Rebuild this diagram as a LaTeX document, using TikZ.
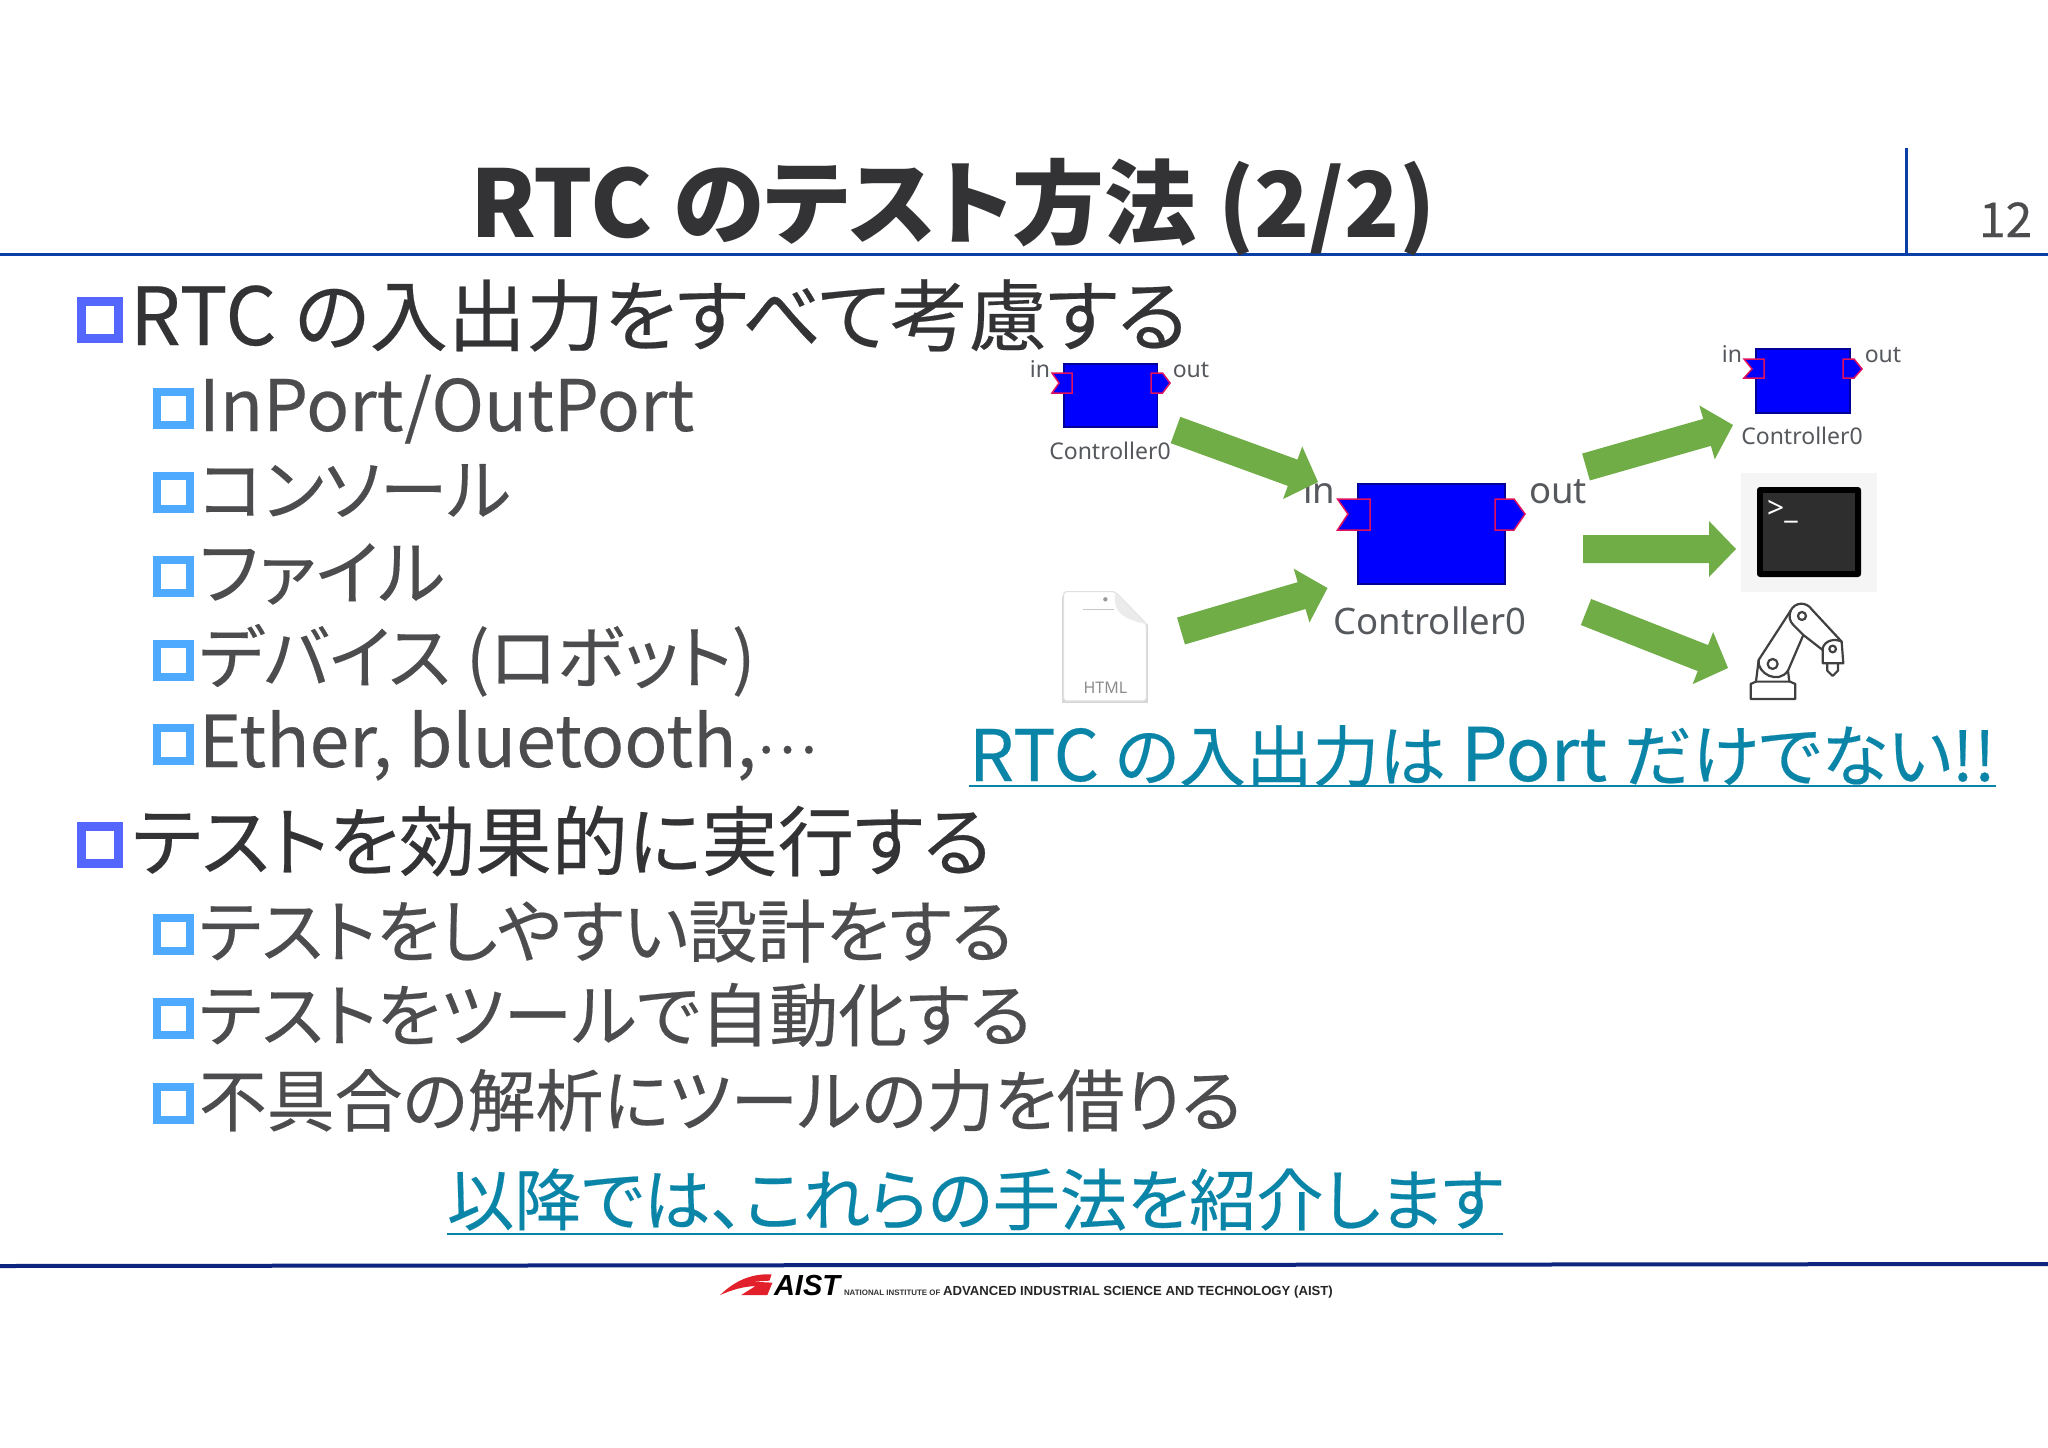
\documentclass[tikz,border=0pt]{standalone}
\usepackage{fontspec}
\usetikzlibrary{calc}
\setmainfont{Noto Sans CJK JP}[RawFeature=+palt]
\newfontfamily\regfont{Noto Sans CJK JP}[RawFeature=+palt,FakeBold=0.3]
\newfontfamily\labelfont{Noto Sans}
\newfontfamily\logofont{Liberation Sans}
\definecolor{maintext}{HTML}{333335}
\definecolor{subtext}{HTML}{4C4C4E}
\definecolor{linkblue}{HTML}{0A85A8}
\definecolor{headerblue}{HTML}{0B3FA8}
\definecolor{footernavy}{HTML}{0E2580}
\definecolor{bulletmain}{HTML}{5566FF}
\definecolor{bulletsub}{HTML}{4DAAFF}
\definecolor{arrowgreen}{HTML}{70AD47}
\definecolor{portred}{HTML}{E0105F}
\definecolor{labelgray}{HTML}{55585C}
\definecolor{aistred}{HTML}{E2202C}
\newcommand{\fs}[1]{\fontsize{#1}{#1}\selectfont}
\newcommand{\blockarrow}[2]{%
  \coordinate (hb) at ($(#2)!27pt!(#1)$);
  \fill[arrowgreen] ($(#1)!14pt!90:(#2)$) -- ($(hb)!14pt!90:(#2)$) -- ($(hb)!28pt!90:(#2)$) -- (#2)
    -- ($(hb)!28pt!-90:(#2)$) -- ($(hb)!14pt!-90:(#2)$) -- ($(#1)!14pt!-90:(#2)$) -- cycle;}
\tikzset{
  txt/.style={inner sep=0pt,outer sep=0pt,anchor=base west},
  title/.style={txt,font=\fs{92}\bfseries,text=maintext},
  mainitem/.style={txt,font=\regfont\fs{#1},text=maintext},
  subitem/.style={txt,font=\regfont\fs{#1},text=subtext},
  linktext/.style={txt,font=\regfont\fs{#1},text=linkblue},
  mainbullet/.style={draw=bulletmain,line width=9pt,fill=white},
  subbullet/.style={draw=bulletsub,line width=8pt,fill=white},
  blockbox/.style={fill=blue,draw=black!40!blue,line width=1.2pt},
  portshape/.style={fill=blue,draw=portred,line width=1.5pt,line join=miter},
  smalllabel/.style={inner sep=0pt,anchor=base,font=\labelfont\fs{23},text=labelgray},
  biglabel/.style={inner sep=0pt,anchor=base,font=\labelfont\fs{36.5},text=labelgray},
  robot/.style={draw=black!75,line width=2.2pt,line join=round,line cap=round},
}
\begin{document}
\begin{tikzpicture}[x=1pt,y=-1pt]
\useasboundingbox[fill=white] (0,0) rectangle (2048,1448);

% header and footer rules
\coordinate (hl) at (0,254); \coordinate (hr) at (2048,254);
\coordinate (vt) at (1906,148); \coordinate (vb) at (1906,254);
\draw[headerblue,line width=3pt] (hl) -- (hr);
\draw[headerblue,line width=3pt] (vt) -- (vb);
\coordinate (fl) at (0,1266); \coordinate (fr) at (2048,1264);
\draw[footernavy,line width=4pt] (fl) -- (fr);

% title and number
\node[title] (ttl) at (470,237) {{\fs{93}RTC }のテスト方法 {\fs{90.7}(2/2)}};
\node[txt,font=\regfont\fs{48},text=subtext] (pg) at (1979,237) {12};

% bullets
\foreach \y/\n in {343/m1,868/m2}
  \draw[mainbullet] (81.5,\y-4.5) rectangle (118.5,\y-41.5);
\foreach \y in {429,513,597,681,765,955,1039,1124}
  \draw[subbullet] (157,\y-4) rectangle (190,\y-37);

% list text
\node[mainitem=78.2] (m1) at (130,345) {{\fs{80}RTC }の入出力をすべて考慮する};
\node[subitem=71] (s1) at (199,431) {InPort/OutPort};
\node[subitem=68] (s2) at (199,515) {コンソール};
\node[subitem=71] (s3) at (199,599) {ファイル};
\node[subitem=69.3] (s4) at (199,683) {デバイス (ロボット)};
\node[subitem=71.5] (s5) at (199,767) {Ether, bluetooth,{\fs{57}\raisebox{14pt}{⋯}}};
\node[mainitem=76.3] (m2) at (132,870) {テストを効果的に実行する};
\node[subitem=68.7] (s6) at (199,957) {テストをしやすい設計をする};
\node[subitem=69] (s7) at (199,1041) {テストをツールで自動化する};
\node[subitem=67.8] (s8) at (199,1126) {不具合の解析にツールの力を借りる};

% links
\node[linktext=67.8] (lk1) at (969,781) {{\fs{71}RTC }{\fs{66.7}の入出力は }{\fs{74}Port }だけでない!!};
\draw[linkblue,line width=2.5pt] ([yshift=-5pt]lk1.base west) -- ([yshift=-5pt]lk1.base east);
\node[linktext=67.2] (lk2) at (447,1225) {以降では、これらの手法を紹介します};
\draw[linkblue,line width=2.5pt] ([yshift=-9pt]lk2.base west) -- ([yshift=-9pt]lk2.base east);

% left small controller
\draw[blockbox] (1064,364) rectangle (1157.5,427);
\draw[portshape] (1052,373) -- (1072,373) -- (1072,393) -- (1052,393) -- (1059,383) -- cycle;
\draw[portshape] (1151,373) -- (1162.5,373) -- (1170,383) -- (1162.5,393) -- (1151,393) -- cycle;
\node[smalllabel] (c1i) at (1040,377) {in};
\node[smalllabel] (c1o) at (1191,377) {out};
\node[smalllabel] (c1n) at (1110,459) {Controller0};

% big controller
\draw[blockbox] (1358,484) rectangle (1505,584);
\draw[portshape] (1337.5,499) -- (1370,499) -- (1370,530) -- (1337.5,530) -- (1348,514) -- cycle;
\draw[portshape] (1495,499) -- (1514,499) -- (1525,514) -- (1514,530) -- (1495,530) -- cycle;
\node[biglabel] (c2i) at (1319,503) {in};
\node[biglabel] (c2o) at (1558,503) {out};
\node[biglabel] (c2n) at (1430,634) {Controller0};

% right small controller
\draw[blockbox] (1756,349) rectangle (1850,413);
\draw[portshape] (1744,359) -- (1764,359) -- (1764,378) -- (1744,378) -- (1752,369) -- cycle;
\draw[portshape] (1843,359) -- (1854,359) -- (1862,369) -- (1854,378) -- (1843,378) -- cycle;
\node[smalllabel] (c3i) at (1732,362) {in};
\node[smalllabel] (c3o) at (1883,362) {out};
\node[smalllabel] (c3n) at (1802,444) {Controller0};

% file icon
\begin{scope}[shift={(1000,320)},x=0.35714pt,y=-0.3333pt]
  \fill[black!16] (174,829) -- (174,1149) -- (414,1149) -- (414,915) -- (320,819) -- cycle;
  \draw[fill=white,draw=black!12,line width=1.2pt,rounded corners=3pt]
    (178,815) -- (322,815) -- (410,912) -- (410,1143) -- (178,1143) -- cycle;
  \fill[black!8] (322,815) .. controls (318,860) and (325,895) .. (410,912) -- (392,895) -- cycle;
  \draw[black!22,line width=.8pt] (232,867) -- (318,867);
  \fill[black!40] (295,838) circle (2.2pt);
  \node[inner sep=0pt,anchor=base,font=\labelfont\fs{16},text=black!45] (html) at (295,1122) {HTML};
\end{scope}

% terminal icon
\fill[black!4] (1741,473) rectangle (1877,592);
\fill[black,rounded corners=3pt] (1757,487) rectangle (1861,577);
\fill[black!82] (1763,493) rectangle (1855,571);
\node[inner sep=0pt,anchor=base west,font=\labelfont\bfseries\fs{30},text=white] (prompt) at (1767,518) {>\_};

% robot icon
\begin{scope}[shift={(1540,320)},x=0.3333pt,y=-0.3333pt]
  \draw[robot] (632,1137) -- (632,1092) -- (648,1085) -- (750,1085) -- (766,1092) -- (766,1137) -- cycle;
  \draw[robot] (648,1085) -- (656,1020);
  \draw[robot] (748,1085) -- (744,1052);
  \draw[robot] (656,1020) -- (752,872);
  \draw[robot] (744,1052) -- (790,945);
  \draw[robot] (656,1020) .. controls (650,1060) and (715,1095) .. (744,1052);
  \draw[robot] (698,1032) circle (15);
  \draw[robot] (752,872) .. controls (765,845) and (800,845) .. (815,868) -- (905,965) -- (910,1030) -- (848,1030) -- (848,985);
  \draw[robot] (752,872) .. controls (745,890) and (750,905) .. (760,915) -- (790,945) -- (848,990);
  \draw[robot] (848,985) .. controls (855,960) and (885,955) .. (905,965);
  \draw[robot] (786,888) circle (12);
  \draw[robot] (878,987) circle (10);
  \draw[robot] (862,1030) -- (862,1052) -- (878,1068) -- (894,1052) -- (894,1030);
\end{scope}

% block arrows
\coordinate (a1s) at (1175.5,430); \coordinate (a1e) at (1318,482);
\coordinate (a2s) at (1181,631); \coordinate (a2e) at (1327.5,588);
\coordinate (a3s) at (1586,467); \coordinate (a3e) at (1733,425);
\coordinate (a4s) at (1583,549); \coordinate (a4e) at (1736,549);
\coordinate (a5s) at (1586,612); \coordinate (a5e) at (1728,668);
\blockarrow{a1s}{a1e}
\blockarrow{a2s}{a2e}
\blockarrow{a3s}{a3e}
\blockarrow{a4s}{a4e}
\blockarrow{a5s}{a5e}

% AIST logo and footer text
\begin{scope}[shift={(700,1240)},x=0.4209pt,y=-0.3333pt]
  \fill[aistred] (48,165) .. controls (80,125) and (120,100) .. (170,103) -- (165,122) -- (125,125) -- (172,128) -- (160,165) -- (98,165) -- (132,138) .. controls (100,140) and (75,150) .. cycle;
\end{scope}
\node[txt,font=\logofont\bfseries\itshape\fs{29},text=black] (aist) at (774,1295) {AIST};
\node[txt,font=\logofont\bfseries\fs{7.9},text=black!80] (nat) at (844,1295) {NATIONAL INSTITUTE OF};
\node[txt,font=\logofont\bfseries\fs{13.15},text=black!85] (adv) at (943,1295) {ADVANCED INDUSTRIAL SCIENCE AND TECHNOLOGY (AIST)};
\end{tikzpicture}
\end{document}
